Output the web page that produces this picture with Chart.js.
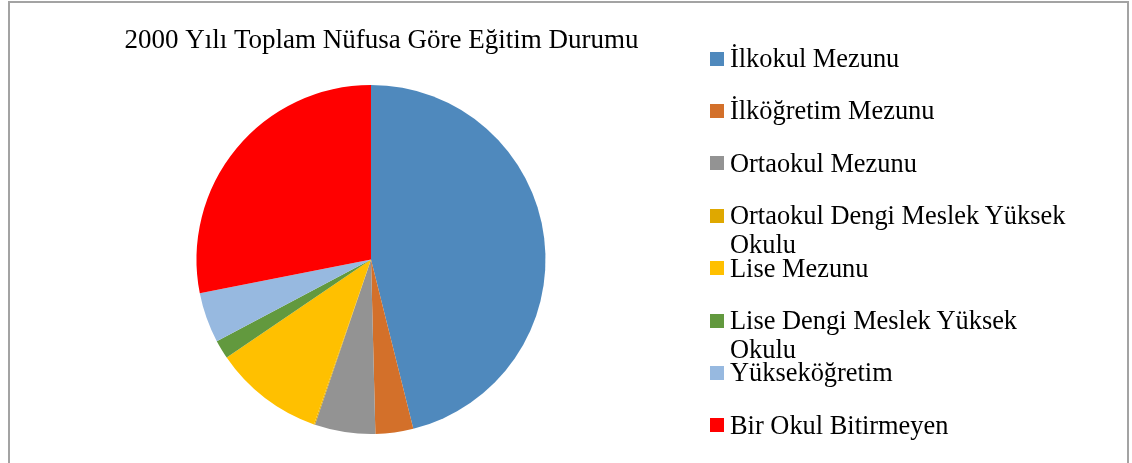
<!DOCTYPE html>
<html lang="tr">
<head>
<meta charset="utf-8">
<title>2000 Yılı Toplam Nüfusa Göre Eğitim Durumu</title>
<script src="https://cdn.jsdelivr.net/npm/chart.js@4.4.1/dist/chart.umd.min.js"></script>
<style>
  body { margin: 0; background: #fff; }
  #marco { position: relative; width: 1132px; height: 463px; overflow: hidden;
           font-family: "Liberation Serif", "Times New Roman", serif; }
  #borde { position: absolute; left: 8px; top: 1px; width: 1121px; height: 480px;
           border: 2px solid #a3a3a3; box-sizing: border-box; }
  #caja { position: absolute; left: 0; top: 0; width: 742px; height: 463px; }
  #leyenda { position: absolute; left: 710px; top: 0; }
  .item { position: absolute; left: 0; width: 400px; font-size: 26.4px; line-height: 29px; color: #000; }
  .cuadro { position: absolute; left: 0; top: 7.5px; width: 14px; height: 14px; }
  .texto { position: absolute; left: 20px; top: 0; width: 354px; }
</style>
</head>
<body>
<div id="marco">
  <div id="borde"></div>
  <div id="caja"><canvas id="grafico" width="742" height="463"></canvas></div>
  <div id="leyenda"></div>
</div>
<script>
const titulo = '2000 Yılı Toplam Nüfusa Göre Eğitim Durumu';

const categorias = [
    'İlkokul Mezunu',
    'İlköğretim Mezunu',
    'Ortaokul Mezunu',
    'Ortaokul Dengi Meslek Yüksek Okulu',
    'Lise Mezunu',
    'Lise Dengi Meslek Yüksek Okulu',
    'Yükseköğretim',
    'Bir Okul Bitirmeyen'
];

// yüzde (%)
const valores = [46.1, 3.5, 5.6, 0.1, 10.2, 1.75, 4.65, 28.1];

const colores = ['#4f89bd', '#d3702a', '#939393', '#dfa800', '#ffc000', '#62993e', '#97b9e0', '#ff0000'];

document.addEventListener('DOMContentLoaded', function() {
    const grafico = crearGrafico();
    crearLeyenda(grafico);
});

// el título de Chart.js se comprime al ancho del área, así que se dibuja aparte
const tituloPlugin = {
    id: 'tituloPlugin',
    afterDraw: function(chart) {
        const c = chart.ctx;
        const area = chart.chartArea;
        c.save();
        c.font = '27px "Liberation Serif", "Times New Roman", serif';
        c.fillStyle = '#000';
        c.textAlign = 'center';
        c.textBaseline = 'middle';
        c.fillText(titulo, (area.left + area.right) / 2 + 10.5, 41);
        c.restore();
    }
};

function crearGrafico() {
    const ctx = document.getElementById('grafico').getContext('2d');

    return new Chart(ctx, {
        type: 'pie',
        data: {
            labels: categorias,
            datasets: [{
                data: valores,
                backgroundColor: colores,
                borderWidth: 0
            }]
        },
        options: {
            responsive: false,
            animation: false,
            layout: {
                padding: { left: 127, right: 127, top: 85, bottom: 29 }
            },
            plugins: {
                legend: {
                    display: false
                },
                tooltip: {
                    enabled: false
                }
            }
        },
        plugins: [tituloPlugin]
    });
}

function crearLeyenda(grafico) {
    const leyenda = document.getElementById('leyenda');
    const items = grafico.options.plugins.legend.labels.generateLabels(grafico);

    items.forEach(function(it, i) {
        const div = document.createElement('div');
        div.className = 'item';
        div.style.top = (44 + i * 52.4) + 'px';

        const cuadro = document.createElement('div');
        cuadro.className = 'cuadro';
        cuadro.style.background = it.fillStyle;

        const texto = document.createElement('div');
        texto.className = 'texto';
        texto.textContent = it.text;

        div.appendChild(cuadro);
        div.appendChild(texto);
        leyenda.appendChild(div);
    });
}
</script>
</body>
</html>
